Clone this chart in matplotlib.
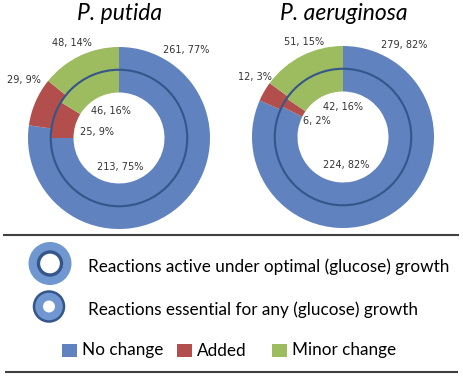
import matplotlib
matplotlib.use("Agg")
import matplotlib.pyplot as plt
from matplotlib.patches import Circle, Rectangle

W, H = 463, 376

# data
species = ["P. putida", "P. aeruginosa"]
categories = ["No change", "Added", "Minor change"]
outerCounts = [[261, 29, 48], [279, 12, 51]]      # active under optimal growth
outerPct = [[77, 9, 14], [82, 3, 15]]
innerCounts = [[213, 25, 46], [224, 6, 42]]       # essential for any growth
innerPct = [[75, 9, 16], [82, 2, 16]]
ringLabels = [
    "Reactions active under optimal (glucose) growth",
    "Reactions essential for any (glucose) growth",
]

colors = ["#6082BF", "#B24E4B", "#9DBB5F"]
darkBlue = "#34568A"
lightBlue = "#7097D0"
textGray = "#333333"

# label offsets (in units of outer radius), per category, picked to match layout
outerLabelPos = [
    [(0.74, 0.97), (-1.04, 0.64), (-0.52, 1.04)],
    [(0.67, 1.01), (-0.97, 0.66), (-0.43, 1.04)],
]
innerLabelPos = [
    [(0.01, -0.32), (-0.24, 0.07), (-0.09, 0.30)],
    [(0.04, -0.31), (-0.29, 0.18), (0.0, 0.33)],
]

centers = [(119, 138), (343, 137)]
radiusPx = 91
titleY = 14


def pxAxes(fig, cx, cy, half):
    return fig.add_axes([(cx - half) / W, (H - cy - half) / H, 2 * half / W, 2 * half / H])


fig = plt.figure(figsize=(W / 100, H / 100), dpi=100)
bg = fig.add_axes([0, 0, 1, 1])
bg.set_xlim(0, W)
bg.set_ylim(H, 0)
bg.axis("off")

lim = 1.25
for i, name in enumerate(species):
    cx, cy = centers[i]
    ax = pxAxes(fig, cx, cy, radiusPx * lim)
    ax.pie(outerCounts[i], radius=1.0, colors=colors, startangle=90, counterclock=False,
           wedgeprops=dict(width=0.25, linewidth=0))
    ax.pie(innerCounts[i], radius=0.75, colors=colors, startangle=90, counterclock=False,
           wedgeprops=dict(width=0.25, linewidth=0))
    ax.add_patch(Circle((0, 0), 0.75, fill=False, edgecolor=darkBlue, linewidth=1.5))
    ax.set_xlim(-lim, lim)
    ax.set_ylim(-lim, lim)
    ax.set_aspect("equal")
    ax.axis("off")
    for j in range(3):
        x, y = outerLabelPos[i][j]
        ax.text(x, y, f"{outerCounts[i][j]}, {outerPct[i][j]}%", ha="center", va="center",
                fontsize=7, color=textGray)
        x, y = innerLabelPos[i][j]
        ax.text(x, y, f"{innerCounts[i][j]}, {innerPct[i][j]}%", ha="center", va="center",
                fontsize=7, color=textGray)
    bg.text(cx + 1, titleY, name, ha="center", va="center", fontsize=16.5, style="italic",
            family="Lato", color="black")

# separators
bg.plot([3, 459], [235, 235], color="#404040", linewidth=1.5, solid_capstyle="butt")
bg.plot([5, 458], [372, 372], color="#404040", linewidth=1.5, solid_capstyle="butt")

# ring legend
bg.add_patch(Circle((50, 263.5), 21.5, facecolor=lightBlue, edgecolor="none"))
bg.add_patch(Circle((50, 263.5), 11.5, facecolor="white", edgecolor=darkBlue, linewidth=2.4))
bg.add_patch(Circle((49, 306.5), 15, facecolor=lightBlue, edgecolor=darkBlue, linewidth=1.8))
bg.add_patch(Circle((49, 306.5), 6, facecolor="white", edgecolor="none"))
for k, lab in enumerate(ringLabels):
    bg.text(88, [267, 310][k], lab, ha="left", va="center", fontsize=12.3, family="Lato", color="black")

# category legend
boxX = [62, 177, 272]
for k, cat in enumerate(categories):
    bg.add_patch(Rectangle((boxX[k], 344), 15, 13, facecolor=colors[k], edgecolor="none"))
    bg.text(boxX[k] + 20, 350.5, cat, ha="left", va="center", fontsize=12.3, family="Lato", color="black")

fig.savefig("out.png", dpi=100)
